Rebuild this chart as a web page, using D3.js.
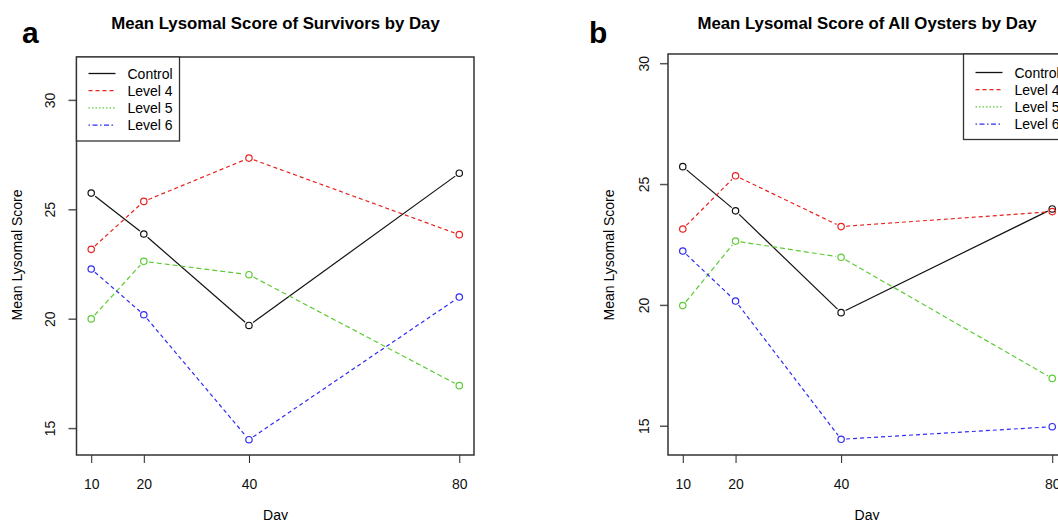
<!DOCTYPE html>
<html>
<head>
<meta charset="utf-8">
<script src="https://cdn.jsdelivr.net/npm/d3@7"></script>
<style>
  body { margin: 0; background: #fff; }
  svg { display: block; font-family: "Liberation Sans", Arial, sans-serif; }
</style>
</head>
<body>
<svg id="chart" width="1058" height="520"></svg>
<script>
// data
const days = [10, 20, 40, 80];
const groups = ["Control", "Level 4", "Level 5", "Level 6"];
const survivorsControl = [25.74, 23.87, 19.69, 26.65];
const survivorsLevel4 = [23.17, 25.36, 27.34, 23.84];
const survivorsLevel5 = [19.99, 22.62, 22.01, 16.94];
const survivorsLevel6 = [22.27, 20.18, 14.47, 20.99];
const allControl = [25.72, 23.89, 19.68, 23.97];
const allLevel4 = [23.14, 25.34, 23.24, 23.86];
const allLevel5 = [19.97, 22.64, 21.97, 16.96];
const allLevel6 = [22.23, 20.16, 14.44, 14.96];
const yTicks = [15, 20, 25, 30];

const colors = ["#111111", "#e8231f", "#5ccb35", "#2f2cf5"];
const plotDash = [null, "4,3", "5,3", "4,3"];
const legendDash = [null, "4,3", "1.5,2", "1.5,2.5,5,2.5"];

const svg = d3.select("#chart");

drawPanel({
    letter: "a", letterX: 22,
    title: "Mean Lysomal Score of Survivors by Day",
    left: 76.5, right: 474, top: 57, bottom: 455,
    yDomain: [13.77, 31.96],
    values: [survivorsControl, survivorsLevel4, survivorsLevel5, survivorsLevel6],
    legendX: 76.5, legendW: 103, legendH: 84, legendRow0: 16.5,
    yLabelX: 17, yTickLabelX: 50
});

drawPanel({
    letter: "b", letterX: 589,
    title: "Mean Lysomal Score of All Oysters by Day",
    left: 668, right: 1067, top: 54, bottom: 455,
    yDomain: [13.79, 30.38],
    values: [allControl, allLevel4, allLevel5, allLevel6],
    legendX: 963.5, legendW: 120, legendH: 85.5, legendRow0: 18.5,
    yLabelX: 609, yTickLabelX: 644
});

function drawPanel(cfg) {
    const x = d3.scaleLinear().domain([7.2, 82.8]).range([cfg.left, cfg.right]);
    const y = d3.scaleLinear().domain(cfg.yDomain).range([cfg.bottom, cfg.top]);
    const g = svg.append("g");

    // panel letter and title
    g.append("text")
        .attr("x", cfg.letterX).attr("y", 42.5)
        .style("font-size", "30px").style("font-weight", "bold")
        .text(cfg.letter);
    g.append("text")
        .attr("x", (cfg.left + (cfg.left + 398)) / 2).attr("y", 29.3)
        .attr("text-anchor", "middle")
        .style("font-size", "16.8px").style("font-weight", "bold")
        .text(cfg.title);

    // axes (R style: ticks outside the box)
    const xAxis = g.append("g")
        .attr("transform", `translate(0,${cfg.bottom})`)
        .call(d3.axisBottom(x).tickValues(days).tickSize(8).tickSizeOuter(0).tickPadding(16));
    xAxis.select(".domain").remove();
    xAxis.selectAll("line").attr("stroke", "#222");
    xAxis.selectAll("text").style("font-size", "14px").attr("fill", "#111");

    const yAxis = g.append("g")
        .attr("transform", `translate(${cfg.left},0)`)
        .call(d3.axisLeft(y).tickValues(yTicks).tickSize(8).tickSizeOuter(0));
    yAxis.select(".domain").remove();
    yAxis.selectAll("line").attr("stroke", "#555").attr("stroke-width", 1.5);
    yAxis.selectAll("text")
        .attr("x", null).attr("dy", null)
        .attr("text-anchor", "middle")
        .attr("dominant-baseline", "central")
        .attr("transform", d => `translate(${cfg.yTickLabelX - cfg.left},0) rotate(-90)`)
        .style("font-size", "14px").attr("fill", "#111");

    g.append("text")
        .attr("x", (cfg.left + cfg.left + 398) / 2).attr("y", 515)
        .attr("dy", "0.35em").attr("text-anchor", "middle")
        .style("font-size", "14px")
        .text("Day");
    g.append("text")
        .attr("transform", `translate(${cfg.yLabelX},255) rotate(-90)`)
        .attr("text-anchor", "middle").attr("dominant-baseline", "central")
        .style("font-size", "14px")
        .text("Mean Lysomal Score");

    // lines with gaps around points (type = "b")
    const gap = 5;
    cfg.values.forEach((vals, i) => {
        const pts = days.map((d, k) => [x(d), y(vals[k])]);
        const segs = d3.pairs(pts).map(([p, q]) => {
            const dx = q[0] - p[0], dy = q[1] - p[1];
            const len = Math.hypot(dx, dy);
            return [[p[0] + dx / len * gap, p[1] + dy / len * gap],
                    [q[0] - dx / len * gap, q[1] - dy / len * gap]];
        });
        g.selectAll(null)
            .data(segs)
            .enter()
            .append("path")
            .attr("d", d => d3.line()(d))
            .attr("fill", "none")
            .attr("stroke", colors[i])
            .attr("stroke-width", 1.2)
            .attr("stroke-dasharray", plotDash[i]);
        g.selectAll(null)
            .data(pts)
            .enter()
            .append("circle")
            .attr("cx", d => d[0]).attr("cy", d => d[1])
            .attr("r", 3.2)
            .attr("fill", "none")
            .attr("stroke", colors[i])
            .attr("stroke-width", 1.2);
    });

    // plot box
    g.append("rect")
        .attr("x", cfg.left).attr("y", cfg.top)
        .attr("width", cfg.right - cfg.left).attr("height", cfg.bottom - cfg.top)
        .attr("fill", "none").attr("stroke", "#333").attr("stroke-width", 1.5);

    // legend
    const lg = g.append("g").attr("transform", `translate(${cfg.legendX},${cfg.top})`);
    lg.append("rect")
        .attr("width", cfg.legendW).attr("height", cfg.legendH)
        .attr("fill", "#fff").attr("stroke", "#333").attr("stroke-width", 1.3);
    const rows = lg.selectAll("g.row")
        .data(groups)
        .enter()
        .append("g")
        .attr("class", "row")
        .attr("transform", (d, i) => `translate(0,${cfg.legendRow0 + i * 17.2})`);
    rows.append("line")
        .attr("x1", 12).attr("x2", 39)
        .attr("stroke", (d, i) => colors[i])
        .attr("stroke-width", 1.3)
        .attr("stroke-dasharray", (d, i) => legendDash[i]);
    rows.append("text")
        .attr("x", 51)
        .attr("dominant-baseline", "central")
        .style("font-size", "14px")
        .text(d => d);
}
</script>
</body>
</html>
